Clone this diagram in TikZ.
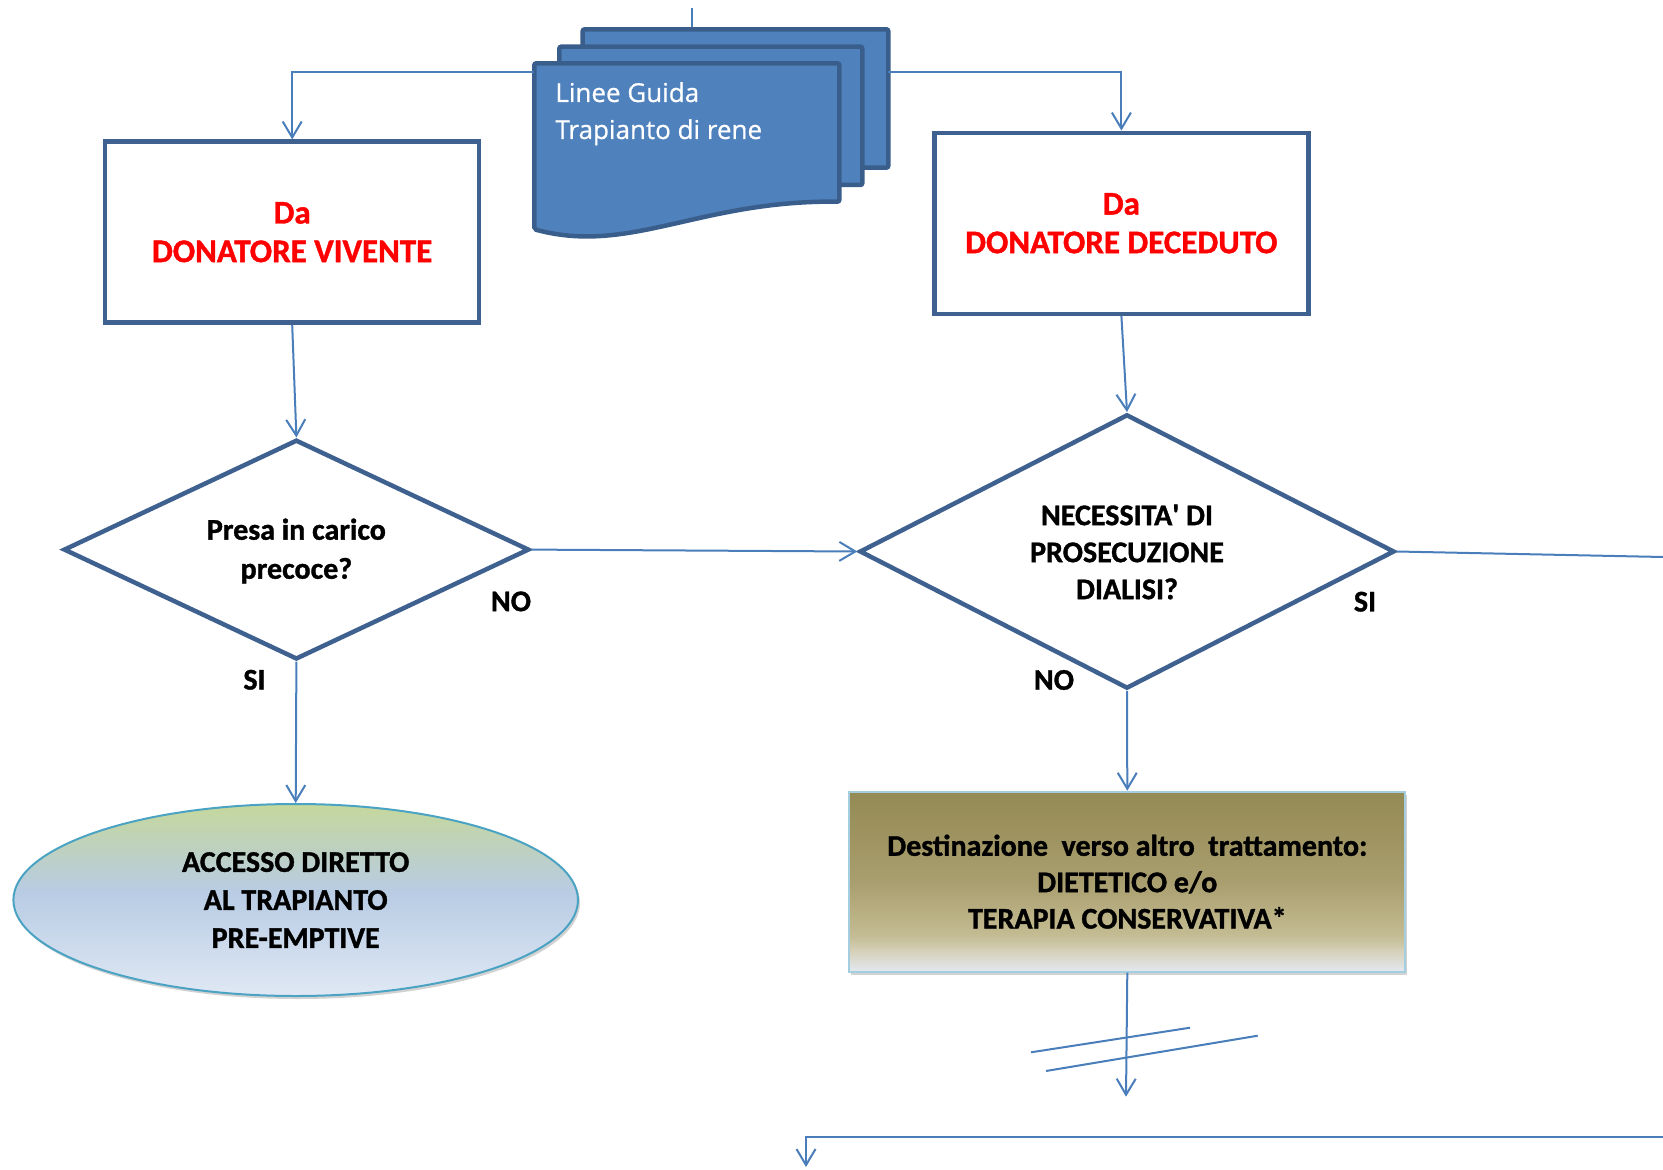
\documentclass[tikz,border=0pt]{standalone}
\usepackage{fontspec}
\setmainfont{Carlito}[BoldFeatures={FakeBold=1.2}]
\newfontfamily\docfont{Open Sans}[FakeBold=0.6]
\usetikzlibrary{arrows.meta,shapes.geometric,shadows}
\definecolor{connC}{HTML}{4A7EBB}
\definecolor{boxC}{HTML}{3F6190}
\definecolor{docFill}{HTML}{4F81BD}
\definecolor{docLine}{HTML}{3A5E8C}
\definecolor{redT}{HTML}{FF0000}
\definecolor{ellLine}{HTML}{4BA3C3}
\definecolor{oliveLine}{HTML}{A3CEE0}
\definecolor{oA}{HTML}{948A54}
\definecolor{oB}{HTML}{A99E6E}
\definecolor{oC}{HTML}{C4BC93}
\definecolor{oD}{HTML}{D8D4C0}
\definecolor{oE}{HTML}{E3E9F1}
\definecolor{eA}{HTML}{C5D89C}
\definecolor{eB}{HTML}{BDD0C4}
\definecolor{eC}{HTML}{B8CCE4}
\definecolor{eD}{HTML}{E0E8F4}
\pgfdeclareverticalshading{olivesh}{100bp}{color(0bp)=(oE); color(25bp)=(oE); color(30bp)=(oD); color(35bp)=(oC); color(50bp)=(oB); color(75bp)=(oA); color(100bp)=(oA)}
\pgfdeclareverticalshading{ellsh}{100bp}{color(0bp)=(eD); color(25bp)=(eD); color(52bp)=(eC); color(62bp)=(eB); color(75bp)=(eA); color(100bp)=(eA)}
\begin{document}
\begin{tikzpicture}[x=0.5pt,y=-0.5pt,
  conn/.style={draw=connC,line width=1pt,-{Straight Barb[length=8pt,width=9.5pt]}},
  plain/.style={draw=connC,line width=1pt},
  flowbox/.style={draw=boxC,line width=2.25pt,fill=white,rectangle,minimum width=187pt,minimum height=90.5pt,inner sep=0pt,align=center,font=\bfseries\fontsize{16.5}{19.3}\selectfont,text=redT},
  decision/.style={draw=boxC,line width=2.25pt,fill=white,diamond,inner sep=0pt},
  dtext/.style={inner sep=0pt,align=center,font=\bfseries\fontsize{15}{18.5}\selectfont},
  lbl/.style={font=\bfseries\fontsize{15}{17}\selectfont,inner sep=0pt},
  sheet/.style={draw=docLine,fill=docFill,line width=2.25pt,rounded corners=1pt},
  doctext/.style={font=\docfont\fontsize{13}{16}\selectfont,text=white,inner sep=0pt,anchor=base west},
  shadowed/.style={drop shadow={shadow xshift=1pt,shadow yshift=-1.5pt,opacity=0.25,fill=black!70}},
]
\useasboundingbox (0,0) rectangle (1663,1170);

% incoming line at the top
\coordinate (topIn) at (692,8);
\coordinate (backTop) at (692,29.3);
\draw[plain] (topIn) -- (backTop);

% multi-document shape
\draw[sheet] (582.7,29.3) rectangle (888.3,167.7);
\draw[sheet] (559.3,46.7) rectangle (862.3,185);
\draw[sheet] (534.3,63.3) -- (839.3,63.3) -- (839.3,201.7)
  .. controls (700,200) and (630,255) .. (534.3,229.3) -- cycle;
\node[doctext] (dtA) at (555,102) {Linee Guida};
\node[doctext] (dtB) at (555,139) {Trapianto di rene};
\coordinate (docL) at (534.3,72.3);
\coordinate (docR) at (888.3,72.3);

% boxes
\node[flowbox] (boxL) at (292.2,232.2) {Da\\DONATORE VIVENTE};
\node[flowbox] (boxR) at (1121.4,223.3) {Da\\DONATORE DECEDUTO};

% decisions
\node[decision,minimum width=232.8pt,minimum height=109.85pt] (dL) at (296.4,549.6) {};
\node[dtext] (dLt) at (296.4,551) {Presa in carico\\[1pt]precoce?};
\node[decision,minimum width=267.5pt,minimum height=137.15pt] (dR) at (1127,551.5) {};
\node[dtext] (dRt) at (1127,552) {NECESSITA\textquotesingle\ DI\\PROSECUZIONE\\DIALISI?};

% terminal ellipse
\node[ellipse,draw=ellLine,line width=1pt,shade,shading=ellsh,shadowed,minimum width=282.3pt,minimum height=96pt,inner sep=0pt,align=center,font=\bfseries\fontsize{15}{19}\selectfont] (ell) at (295.7,900) {ACCESSO DIRETTO\\AL TRAPIANTO\\PRE-EMPTIVE};

% olive process box
\node[rectangle,draw=oliveLine,line width=1pt,shade,shading=olivesh,shadowed,minimum width=278pt,minimum height=90pt,inner sep=0pt,align=center,font=\bfseries\fontsize{15}{18.2}\selectfont] (olv) at (1127.3,881.7) {Destinazione\ \ verso altro\ \ trattamento:\\DIETETICO e/o\\TERAPIA CONSERVATIVA*};

% labels
\node[lbl] (noL) at (511,601.4) {NO};
\node[lbl] (siL) at (254.5,679.8) {SI};
\node[lbl] (siR) at (1365,601.7) {SI};
\node[lbl] (noR) at (1054,680) {NO};

% connectors
\draw[conn] (docL) -| (boxL.north);
\draw[conn] (docR) -| (boxR.north);
\draw[conn] (boxL.south) -- (dL.north);
\draw[conn] (boxR.south) -- (dR.north);
\draw[conn] (dL.east) -- (dR.west);
\draw[conn] (dL.south) -- (ell.north);
\coordinate (siEnd) at (1663,557);
\draw[plain] (dR.east) -- (siEnd);
\draw[conn] (dR.south) -- (olv.north);
\coordinate (brkEnd) at (1126,1096.7);
\draw[conn] (olv.south) -- (brkEnd);
\coordinate (b1a) at (1031,1052.3);
\coordinate (b1b) at (1190,1027.7);
\coordinate (b2a) at (1046,1071);
\coordinate (b2b) at (1257.7,1035.7);
\draw[plain] (b1a) -- (b1b);
\draw[plain] (b2a) -- (b2b);
\coordinate (botR) at (1663,1137);
\coordinate (botEnd) at (806,1167);
\draw[conn] (botR) -| (botEnd);
\end{tikzpicture}
\end{document}
